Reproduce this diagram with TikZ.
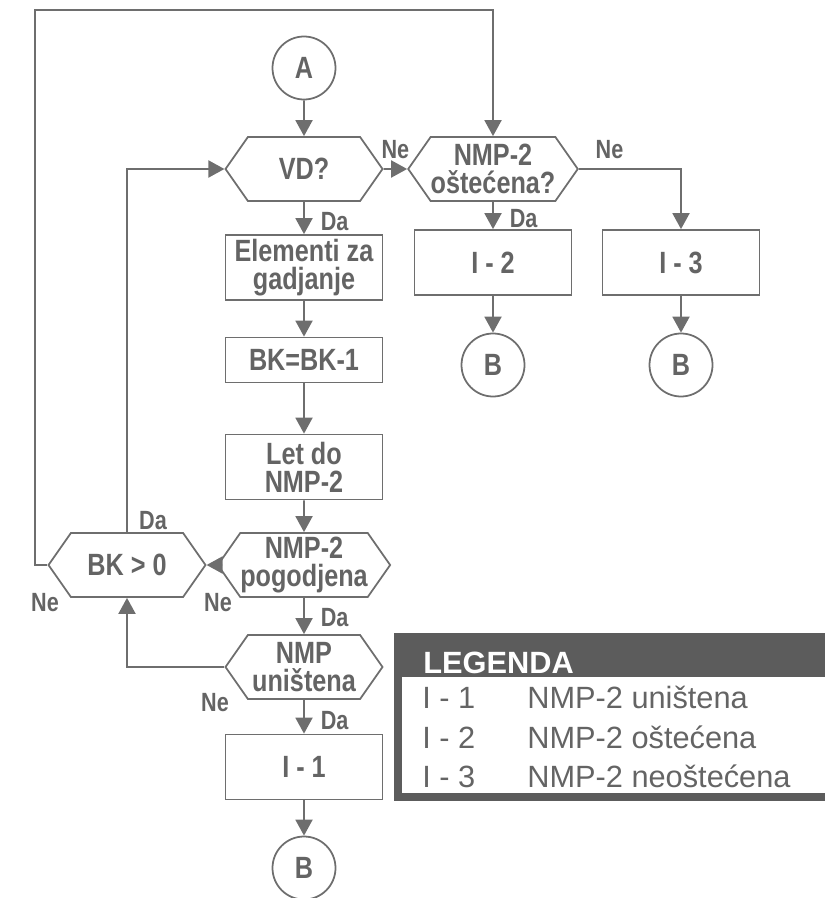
\documentclass[tikz,border=0pt]{standalone}
\usepackage{fontspec}
\setmainfont{Liberation Sans}
\newfontfamily\narrowsans{Liberation Sans}[FakeStretch=0.82]
\usepackage{tikz}
\usetikzlibrary{shapes.geometric, shapes.symbols, arrows.meta, positioning}
\definecolor{flowline}{HTML}{6E6E6E}
\definecolor{flowtext}{HTML}{646464}
\definecolor{legendband}{HTML}{5C5C5C}
\newcommand{\flowfont}{\narrowsans\bfseries\fontsize{17.5}{16}\selectfont}
\newcommand{\yesnofont}{\narrowsans\bfseries\fontsize{15}{16}\selectfont}
\newcommand{\legendfont}{\fontsize{17.5}{20}\selectfont}
\newcommand{\legendhead}{\bfseries\fontsize{17.5}{20}\selectfont}

\begin{document}
\begin{tikzpicture}[
    proc/.style={rectangle, draw=flowline, line width=1pt, minimum width=31.4mm, minimum height=#1,
                 inner sep=0pt, align=center, text=flowtext, font=\flowfont},
    proc/.default=13mm,
    test/.style={signal, signal to=east and west, signal pointer angle=110, draw=flowline, line width=1pt,
                 minimum width=31.4mm, minimum height=12.8mm, inner sep=0pt, align=center, text=flowtext, font=\flowfont},
    conn/.style={circle, draw=flowline, line width=1pt, minimum size=12.6mm, inner sep=0pt, text=flowtext, font=\flowfont},
    flow/.style={draw=flowline, line width=1.1pt, -{Triangle[length=3.2mm, width=3.4mm]}},
    yesno/.style={font=\yesnofont, text=flowtext, inner sep=0pt},
    legtext/.style={font=\legendfont, text=flowtext, anchor=base west, inner sep=0pt}
]
\useasboundingbox (0,0) rectangle (16.48,-17.96);

\node[conn] (a)    at (6.08,-1.36)  {A};
\node[test] (vd)   at (6.08,-3.38)  {VD?};
\node[test] (ost)  at (9.86,-3.38)  {NMP-2\\oštećena?};
\node[proc] (elem) at (6.08,-5.35)  {Elementi za\\gadjanje};
\node[proc=9mm] (bkm) at (6.08,-7.20) {BK=BK-1};
\node[proc] (let)  at (6.08,-9.34)  {Let do\\NMP-2};
\node[test] (pog)  at (6.08,-11.30) {NMP-2\\pogodjena};
\node[test] (bkq)  at (2.54,-11.30) {BK > 0};
\node[test] (unis) at (6.08,-13.34) {NMP\\uništena};
\node[proc] (i1)   at (6.08,-15.34) {I - 1};
\node[conn] (b1)   at (6.08,-17.36) {B};
\node[proc] (i2)   at (9.86,-5.25)  {I - 2};
\node[proc] (i3)   at (13.62,-5.25) {I - 3};
\node[conn] (b2)   at (9.86,-7.30)  {B};
\node[conn] (b3)   at (13.62,-7.30) {B};
\coordinate (topleft) at (0.70,-0.20);

\draw[flow] (a) -- (vd);
\draw[flow] (vd) -- node[yesno, above=5pt] (ne1) {Ne} (ost);
\draw[flow] (vd) -- node[yesno, right=9pt, pos=0.6] (da1) {Da} (elem);
\draw[flow] (ost) -- node[yesno, right=9pt, pos=0.6] (da2) {Da} (i2);
\draw[flow] (ost.east) -| node[yesno, above=5pt, pos=0.15] (ne2) {Ne} (i3.north);
\draw[flow] (i2) -- (b2);
\draw[flow] (i3) -- (b3);
\draw[flow] (elem) -- (bkm);
\draw[flow] (bkm) -- (let);
\draw[flow] (let) -- (pog);
\draw[flow] (pog) -- (bkq);
\draw[flow] (pog) -- node[yesno, right=9pt, pos=0.55] (da3) {Da} (unis);
\draw[flow] (unis) -- node[yesno, right=9pt, pos=0.6] (da4) {Da} (i1);
\draw[flow] (i1) -- (b1);
\draw[flow] (unis.west) -| (bkq.south);
\draw[flow] (bkq.north) |- (vd.west);
\draw[flow] (bkq.west) -| (topleft) -| (ost.north);

\node[yesno] (da5) at (3.06,-10.42) {Da};
\node[yesno] (ne3) at (0.90,-12.06) {Ne};
\node[yesno] (ne4) at (4.36,-12.06) {Ne};
\node[yesno] (ne5) at (4.30,-14.06) {Ne};

\fill[legendband] (7.96,-12.74) rectangle (16.7,-13.54);
\draw[legendband, line width=4pt] (7.96,-12.74) rectangle (16.7,-15.94);
\node[legtext, font=\legendhead, text=white] (legtitle) at (8.46,-13.46) {LEGENDA};
\node[legtext] (k1) at (8.44,-14.16) {I - 1};
\node[legtext] (k2) at (8.44,-14.96) {I - 2};
\node[legtext] (k3) at (8.44,-15.74) {I - 3};
\node[legtext] (v1) at (10.54,-14.16) {NMP-2 uništena};
\node[legtext] (v2) at (10.54,-14.96) {NMP-2 oštećena};
\node[legtext] (v3) at (10.54,-15.74) {NMP-2 neoštećena};
\end{tikzpicture}
\end{document}
